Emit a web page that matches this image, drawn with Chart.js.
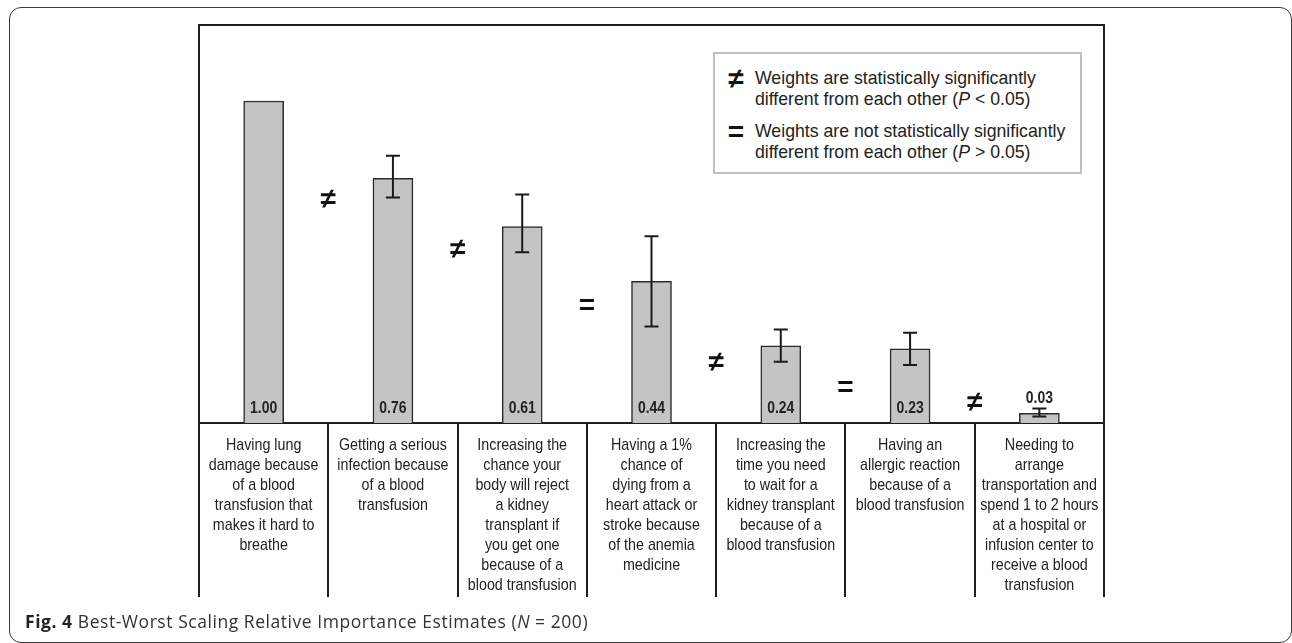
<!DOCTYPE html>
<html>
<head>
<meta charset="utf-8">
<script src="https://cdn.jsdelivr.net/npm/chart.js@4.4.1/dist/chart.umd.min.js"></script>
<style>
  html, body { margin: 0; padding: 0; background: #fff; }
  body { width: 1292px; height: 643px; position: relative; overflow: hidden; }
  .card {
    position: absolute; left: 9px; top: 7px; width: 1283px; height: 636px;
    border: 1.5px solid #3a3a3a; border-radius: 12px; box-sizing: border-box;
  }
  #wrap { position: absolute; left: 190px; top: 15px; width: 925px; height: 600px; }
  .legend {
    position: absolute; left: 713px; top: 52px; width: 369px; height: 122px;
    border: 2px solid #bfbfbf; box-sizing: border-box; background: #fff;
    font-family: "Liberation Sans", Arial, sans-serif; font-size: 17.7px; line-height: 21px; color: #222;
    padding-top: 14px;
  }
  .legend .entry { position: relative; padding-left: 40px; }
  .legend .entry + .entry { margin-top: 11px; }
  .legend .sym {
    position: absolute; left: 10px; top: 0px; width: 22px; text-align: center;
    font-family: "Liberation Sans", Arial, sans-serif; font-weight: bold; font-size: 28px; line-height: 21px; color: #111;
  }
  .caption {
    position: absolute; left: 25px; top: 609px;
    font-family: "Open Sans", sans-serif; font-size: 17.5px; letter-spacing: 0.55px;
    color: #333; white-space: nowrap;
  }
  .caption b { color: #222; }
</style>
</head>
<body>
<div class="card"></div>
<div id="wrap"><canvas id="chart" width="925" height="600"></canvas></div>
<div class="legend">
  <div class="entry"><span class="sym">≠</span>Weights are statistically significantly<br>different from each other (<i>P</i> &lt; 0.05)</div>
  <div class="entry"><span class="sym">=</span>Weights are not statistically significantly<br>different from each other (<i>P</i> &gt; 0.05)</div>
</div>
<div class="caption"><b>Fig. 4</b> Best-Worst Scaling Relative Importance Estimates (<i>N</i> = 200)</div>

<script>
// Attribute descriptions, one line per array entry
const categories = [
  ["Having lung", "damage because", "of a blood", "transfusion that", "makes it hard to", "breathe"],
  ["Getting a serious", "infection because", "of a blood", "transfusion"],
  ["Increasing the", "chance your", "body will reject", "a kidney", "transplant if", "you get one", "because of a", "blood transfusion"],
  ["Having a 1%", "chance of", "dying from a", "heart attack or", "stroke because", "of the anemia", "medicine"],
  ["Increasing the", "time you need", "to wait for a", "kidney transplant", "because of a", "blood transfusion"],
  ["Having an", "allergic reaction", "because of a", "blood transfusion"],
  ["Needing to", "arrange", "transportation and", "spend 1 to 2 hours", "at a hospital or", "infusion center to", "receive a blood", "transfusion"]
];

// Relative importance weights
const weights = [1.00, 0.76, 0.61, 0.44, 0.24, 0.23, 0.03];

// Confidence interval bounds (the reference attribute has none)
const ciLow  = [null, 0.70, 0.53, 0.30, 0.19, 0.18, 0.02];
const ciHigh = [null, 0.83, 0.71, 0.58, 0.29, 0.28, 0.045];

// Significance of the difference between neighbouring attributes
const comparisons = ["≠", "≠", "=", "≠", "=", "≠"];

const SANS = '"Liberation Sans", Arial, sans-serif';
const INK = '#1e1e1e';

// text squeezed horizontally to give a narrow face
function narrowText(ctx, txt, x, y, squeeze) {
  ctx.save();
  ctx.translate(x, y);
  ctx.scale(squeeze, 1);
  ctx.fillText(txt, 0, 0);
  ctx.restore();
}

const annotations = {
  id: 'annotations',
  afterDatasetsDraw(chart, args, opts) {
    const ctx = chart.ctx;
    const y = chart.scales.y;
    const x = chart.scales.x;
    const area = chart.chartArea;
    const bars = chart.getDatasetMeta(0).data;
    const base = y.getPixelForValue(0);
    ctx.save();

    // frame around the plotting area (top, left, right)
    ctx.strokeStyle = INK;
    ctx.lineWidth = 2;
    ctx.beginPath();
    ctx.moveTo(area.left, area.bottom);
    ctx.lineTo(area.left, area.top);
    ctx.lineTo(area.right, area.top);
    ctx.lineTo(area.right, area.bottom);
    ctx.stroke();

    // error bars
    ctx.strokeStyle = '#1a1a1a';
    ctx.lineWidth = 2;
    bars.forEach((bar, i) => {
      if (ciLow[i] == null) return;
      const yl = y.getPixelForValue(ciLow[i]);
      const yh = y.getPixelForValue(ciHigh[i]);
      const cap = 7;
      ctx.beginPath();
      ctx.moveTo(bar.x, yl); ctx.lineTo(bar.x, yh);
      ctx.moveTo(bar.x - cap, yl); ctx.lineTo(bar.x + cap, yl);
      ctx.moveTo(bar.x - cap, yh); ctx.lineTo(bar.x + cap, yh);
      ctx.stroke();
    });

    // value labels: inside the bar foot, or above the whisker for short bars
    ctx.fillStyle = '#222';
    ctx.font = 'bold 17px ' + SANS;
    ctx.textAlign = 'center';
    ctx.textBaseline = 'middle';
    bars.forEach((bar, i) => {
      const txt = weights[i].toFixed(2);
      if (base - bar.y > 28) {
        narrowText(ctx, txt, bar.x, base - 15, 0.82);
      } else {
        const top = ciHigh[i] != null ? y.getPixelForValue(ciHigh[i]) : bar.y;
        narrowText(ctx, txt, bar.x, top - 10, 0.82);
      }
    });

    // attribute descriptions under the baseline, centred in each cell
    ctx.font = '17px ' + SANS;
    ctx.fillStyle = '#222';
    categories.forEach((lines, i) => {
      const cx = x.getPixelForValue(i);
      lines.forEach((ln, k) => narrowText(ctx, ln, cx, base + 22 + k * 20, 0.84));
    });

    // comparison symbols on the boundaries between attributes
    ctx.fillStyle = '#111';
    ctx.font = 'bold 28px ' + SANS;
    comparisons.forEach((s, i) => {
      const px = x.getPixelForValue(i + 0.5);
      const py = y.getPixelForValue(opts.levels[i]);
      ctx.fillText(s, px, py);
    });
    ctx.restore();
  }
};

new Chart(document.getElementById('chart'), {
  type: 'bar',
  data: {
    labels: categories.map(c => c.join(' ')),
    datasets: [{
      data: weights,
      backgroundColor: '#c3c4c3',
      borderColor: '#2a2a2a',
      borderWidth: 1.5,
      borderSkipped: 'start',
      barThickness: 40
    }]
  },
  options: {
    responsive: false,
    animation: false,
    layout: { padding: { left: 9, right: 11, top: 10, bottom: 18 } },
    plugins: {
      legend: { display: false },
      tooltip: { enabled: false },
      annotations: { levels: [0.693, 0.537, 0.363, 0.186, 0.109, 0.062] }
    },
    scales: {
      y: { display: false, min: 0, max: 1.236 },
      x: {
        offset: true,
        afterFit(scale) { scale.height = 174; },
        border: { display: true, color: INK, width: 2 },
        grid: {
          offset: true, drawOnChartArea: false, drawTicks: true,
          tickLength: 174, color: INK, lineWidth: 2
        },
        ticks: { display: false }
      }
    }
  },
  plugins: [annotations]
});
</script>
</body>
</html>
